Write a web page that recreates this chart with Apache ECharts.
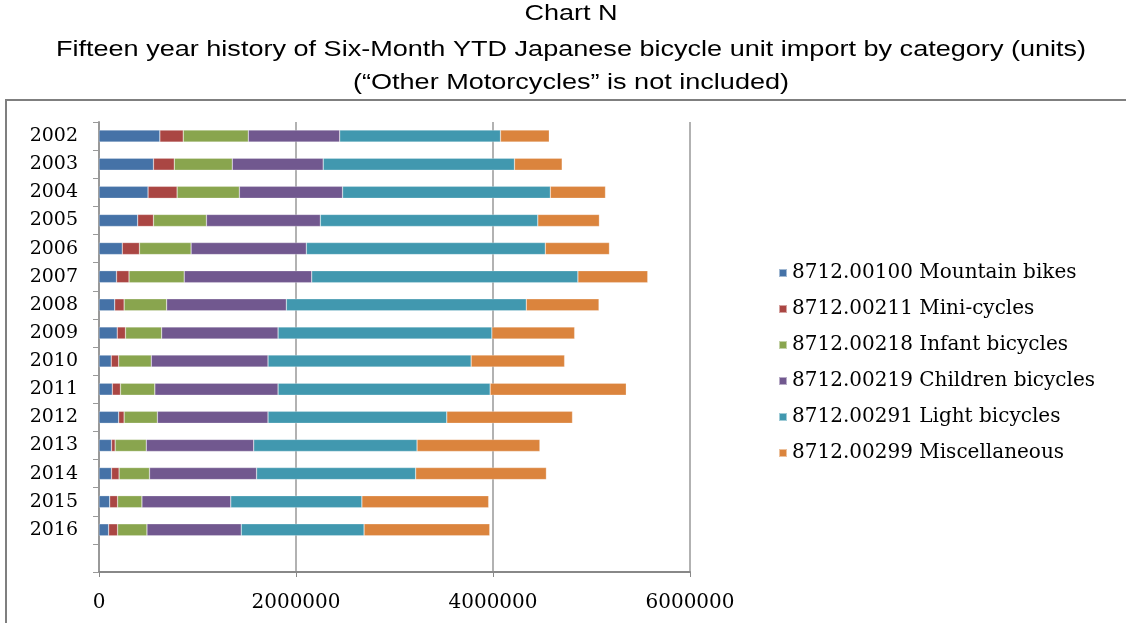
<!DOCTYPE html>
<html>
<head>
<meta charset="utf-8">
<script src="https://cdn.jsdelivr.net/npm/echarts@6/dist/echarts.min.js"></script>
<style>
  html, body { margin: 0; padding: 0; background: #fff; }
  #chart { width: 1126px; height: 623px; }
</style>
</head>
<body>
<div id="chart"></div>
<script>
// years top to bottom, last slot is the empty row above the x axis
const years = ['2002', '2003', '2004', '2005', '2006', '2007', '2008', '2009',
  '2010', '2011', '2012', '2013', '2014', '2015', '2016', ''];
const seriesNames = [
  '8712.00100 Mountain bikes',
  '8712.00211 Mini-cycles',
  '8712.00218 Infant bicycles',
  '8712.00219 Children bicycles',
  '8712.00291 Light bicycles',
  '8712.00299 Miscellaneous',
];
const mountain = [618000, 553000, 498000, 393000, 236000, 178000, 160000, 185000,
  124000, 135000, 200000, 127000, 127000, 109000, 98000];
const mini = [237000, 211000, 295000, 160000, 175000, 127000, 95000, 84000,
  76000, 83000, 55000, 37000, 77000, 80000, 91000];
const infant = [661000, 589000, 632000, 538000, 524000, 560000, 432000, 367000,
  331000, 349000, 338000, 316000, 309000, 247000, 298000];
const children = [928000, 923000, 1048000, 1156000, 1170000, 1295000, 1215000, 1182000,
  1185000, 1251000, 1123000, 1091000, 1087000, 902000, 957000];
const light = [1632000, 1942000, 2109000, 2208000, 2426000, 2702000, 2436000, 2171000,
  2062000, 2153000, 1815000, 1658000, 1615000, 1331000, 1247000];
const misc = [495000, 484000, 560000, 625000, 651000, 709000, 738000, 840000,
  949000, 1382000, 1276000, 1247000, 1327000, 1287000, 1276000];
const allValues = [mountain, mini, infant, children, light, misc];
const colors = ['#4572a7', '#aa4643', '#89a54e', '#71588f', '#4198af', '#db843d'];
const titleLines = [
  'Chart N',
  'Fifteen year history of Six-Month YTD Japanese bicycle unit import by category (units)',
  '(\u201cOther Motorcycles\u201d is not included)',
];

const serif = '"DejaVu Serif", serif';

// title lines, stretched a bit wider like the original
const titleGraphics = titleLines.map((t, i) => ({
  type: 'text',
  x: 571,
  y: [14, 50, 83][i],
  scaleX: 1.23,
  silent: true,
  style: {
    text: t,
    font: '22px "Liberation Sans", Arial, sans-serif',
    fill: '#000',
    textAlign: 'center',
    textVerticalAlign: 'middle',
  },
}));

const option = {
  backgroundColor: '#fff',
  animation: false,
  color: colors,
  graphic: [
    {
      type: 'rect',
      shape: { x: 6, y: 100, width: 1130, height: 540 },
      style: { fill: 'none', stroke: '#7f7f7f', lineWidth: 2 },
      silent: true,
    },
    ...titleGraphics,
  ],
  legend: {
    orient: 'vertical',
    left: 778,
    top: 263,
    padding: 0,
    itemWidth: 8,
    itemHeight: 8,
    itemGap: 16,
    icon: 'rect',
    data: seriesNames,
    textStyle: {
      fontFamily: serif,
      fontSize: 20,
      color: '#000',
    },
  },
  grid: {
    left: 99,
    right: 436,
    top: 122,
    bottom: 51,
    containLabel: false,
  },
  xAxis: {
    type: 'value',
    min: 0,
    max: 6000000,
    interval: 2000000,
    axisLine: { show: true, lineStyle: { color: '#888', width: 2 } },
    axisTick: { show: true, length: 5, lineStyle: { color: '#888' } },
    axisLabel: {
      formatter: (v) => String(v),
      fontFamily: serif,
      fontSize: 20,
      color: '#000',
      margin: 21,
    },
    splitLine: { show: true, lineStyle: { color: '#999', width: 1.5 } },
  },
  yAxis: {
    type: 'category',
    inverse: true,
    data: years,
    axisLine: { show: true, lineStyle: { color: '#999', width: 2 } },
    axisTick: { show: true, length: 6, lineStyle: { color: '#999' } },
    axisLabel: {
      fontFamily: serif,
      fontSize: 19,
      color: '#000',
      margin: 21,
    },
    splitLine: { show: false },
  },
  series: seriesNames.map((name, i) => ({
    name,
    type: 'bar',
    stack: 'total',
    barWidth: 12,
    data: allValues[i],
    itemStyle: { borderColor: 'rgba(255,255,255,0.5)', borderWidth: 0.5 },
  })),
};

const myChart = echarts.init(document.getElementById('chart'));
myChart.setOption(option);
</script>
</body>
</html>
